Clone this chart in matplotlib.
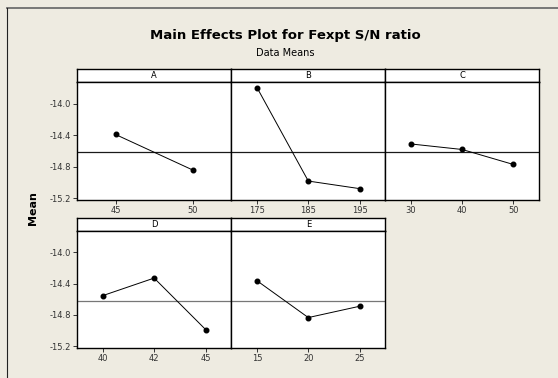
import numpy as np
import matplotlib
matplotlib.use('Agg')
import matplotlib.pyplot as plt
from matplotlib.lines import Line2D

# factor levels and S/N means
factors = ['A', 'B', 'C', 'D', 'E']
levels_A = ['45', '50']
means_A = [-14.39, -14.84]
levels_B = ['175', '185', '195']
means_B = [-13.795, -14.98, -15.076]
levels_C = ['30', '40', '50']
means_C = [-14.51, -14.58, -14.77]
levels_D = ['40', '42', '45']
means_D = [-14.553, -14.328, -14.987]
levels_E = ['15', '20', '25']
means_E = [-14.362, -14.834, -14.689]
y_ticks = [-14.0, -14.4, -14.8, -15.2]

grand_mean = np.mean(means_B)

levels = [levels_A, levels_B, levels_C, levels_D, levels_E]
means = [means_A, means_B, means_C, means_D, means_E]

W, H = 558, 378
BG = '#EEEBE1'

plt.rcParams['axes.unicode_minus'] = False
plt.rcParams['font.family'] = 'DejaVu Sans'

fig = plt.figure(figsize=(W / 100, H / 100), dpi=100, facecolor=BG)

# window frame lines (top and left)
fig.add_artist(Line2D([7 / W, 1], [1 - 8 / H, 1 - 8 / H], transform=fig.transFigure,
                      color='#6e6e6e', lw=1.3))
fig.add_artist(Line2D([7 / W, 7 / W], [0, 1 - 8 / H], transform=fig.transFigure,
                      color='#222222', lw=0.8))

fig.text(285 / W, 1 - 35 / H, 'Main Effects Plot for Fexpt S/N ratio',
         ha='center', va='center', fontsize=9.5, fontweight='bold')
fig.text(285 / W, 1 - 52.5 / H, 'Data Means', ha='center', va='center', fontsize=7)
fig.text(33 / W, 1 - 208 / H, 'Mean', ha='center', va='center', rotation=90,
         fontsize=8, fontweight='bold')

# panel layout in pixels: left, strip top, plot top, plot bottom
col_x = [77, 231.3, 385.3, 539]
rows = [(69, 82, 200), (218.3, 231, 347.7)]
mean_colors = ['#1a1a1a', '#777777']

for i, name in enumerate(factors):
    r, c = divmod(i, 3)
    st, pt, pb = rows[r]
    l, rr = col_x[c], col_x[c + 1]

    # strip with factor name
    sax = fig.add_axes([l / W, 1 - pt / H, (rr - l) / W, (pt - st) / H])
    sax.set_facecolor('white')
    sax.set_xticks([])
    sax.set_yticks([])
    for sp in sax.spines.values():
        sp.set_linewidth(1.0)
    sax.text(0.5, 0.5, name, ha='center', va='center', fontsize=6, transform=sax.transAxes)

    ax = fig.add_axes([l / W, 1 - pb / H, (rr - l) / W, (pb - pt) / H])
    ax.set_facecolor('white')
    n = len(levels[i])
    x = np.arange(1, n + 1)
    ax.axhline(grand_mean, color=mean_colors[r], lw=0.9)
    ax.plot(x, means[i], color='black', lw=0.7, marker='o', markersize=3.3)
    ax.set_xlim(0.5, n + 0.5)
    ax.set_ylim(-15.22, -13.725)
    ax.set_xticks(x)
    ax.set_xticklabels(levels[i])
    ax.set_yticks(y_ticks)
    if c == 0:
        ax.set_yticklabels([f'{v:.1f}' for v in y_ticks])
    else:
        ax.tick_params(axis='y', left=False, labelleft=False)
    ax.tick_params(labelsize=6, length=3, width=0.7, pad=1.5, colors='#333333')
    for sp in ax.spines.values():
        sp.set_linewidth(1.0)

plt.savefig('out.png', dpi=100, facecolor=BG)
